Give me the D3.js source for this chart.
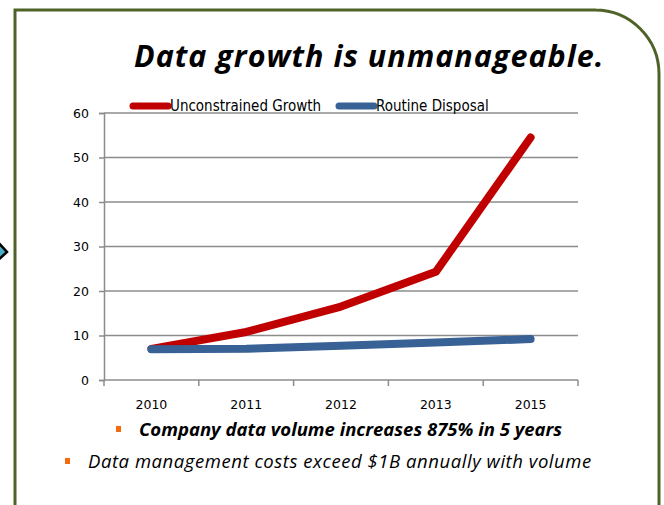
<!DOCTYPE html>
<html>
<head>
<meta charset="utf-8">
<script src="https://cdn.jsdelivr.net/npm/d3@7"></script>
<style>
  body { margin: 0; background: #fff; }
  svg { display: block; }
</style>
</head>
<body>
<svg id="chart"></svg>
<script>
// chart data
var years = ['2010', '2011', '2012', '2013', '2015'];
var growth = [7, 10.8, 16.5, 24.3, 54.5];
var disposal = [6.9, 7.0, 7.7, 8.4, 9.2];
var yTicks = [0, 10, 20, 30, 40, 50, 60];
var seriesNames = ['Unconstrained Growth', 'Routine Disposal'];
var bullets = [
  'Company data volume increases 875% in 5 years',
  'Data management costs exceed $1B annually with volume'
];

var width = 664;
var height = 505;
var red = '#c00000';
var blue = '#386195';
var grid = '#8c8c8c';

var svg = d3.select('#chart')
  .attr('width', width)
  .attr('height', height);

// ===== frame with rounded top-right corner ===== //
var frame = d3.path();
frame.moveTo(15, height + 2);
frame.lineTo(15, 10);
frame.lineTo(596, 10);
frame.arcTo(659, 10, 659, 75, 64);
frame.lineTo(659, height + 2);
svg.append('path')
  .attr('d', frame.toString())
  .attr('fill', 'none')
  .attr('stroke', '#4f6228')
  .attr('stroke-width', 3);

// little arrow peeking in from the left
svg.append('polygon')
  .attr('points', '-4,240 7,252 -4,262')
  .attr('fill', '#4bacc6')
  .attr('stroke', '#000')
  .attr('stroke-width', 2.5);

// ===== title ===== //
svg.append('text')
  .attr('x', 134)
  .attr('y', 67)
  .style('font-family', '"Open Sans", sans-serif')
  .style('font-weight', 'bold')
  .style('font-style', 'italic')
  .style('font-size', '30.5px')
  .style('letter-spacing', '1px')
  .text('Data growth is unmanageable.');

// ===== scales ===== //
var x = d3.scaleBand()
  .domain(years)
  .range([104, 578]);

var y = d3.scaleLinear()
  .domain([0, 60])
  .range([380, 113]);

// gridlines
svg.append('g')
  .selectAll('line')
  .data(yTicks.filter(function (d) { return d > 0; }))
  .enter()
  .append('line')
  .attr('x1', 104)
  .attr('x2', 578)
  .attr('y1', function (d) { return y(d); })
  .attr('y2', function (d) { return y(d); })
  .attr('stroke', grid)
  .attr('stroke-width', 1.5);

// y axis
var yAxis = d3.axisLeft(y)
  .tickValues(yTicks)
  .tickSize(5)
  .tickPadding(10);

var yG = svg.append('g')
  .attr('transform', 'translate(104,0)')
  .call(yAxis);

// x axis (labels only, ticks drawn between categories)
var xAxis = d3.axisBottom(x)
  .tickSize(0)
  .tickPadding(20);

var xG = svg.append('g')
  .attr('transform', 'translate(0,380)')
  .call(xAxis);

[yG, xG].forEach(function (g) {
  g.select('.domain').attr('stroke', grid).attr('stroke-width', 1.5);
  g.selectAll('.tick line').attr('stroke', grid).attr('stroke-width', 1.5);
  g.selectAll('text')
    .attr('fill', '#000')
    .style('font-family', '"DejaVu Sans", sans-serif')
    .style('font-size', '12.5px');
});
xG.select('.domain').attr('d', 'M104,0H578');

// category separators
svg.append('g')
  .selectAll('line')
  .data(years.map(function (d) { return x(d); }).concat([x.range()[1]]))
  .enter()
  .append('line')
  .attr('x1', function (d) { return d; })
  .attr('x2', function (d) { return d; })
  .attr('y1', 380)
  .attr('y2', 386)
  .attr('stroke', grid)
  .attr('stroke-width', 1.5);

// ===== lines ===== //
var line = d3.line()
  .x(function (d, i) { return x(years[i]) + x.bandwidth() / 2; })
  .y(function (d) { return y(d); });

svg.append('path')
  .datum(growth)
  .attr('d', line)
  .attr('fill', 'none')
  .attr('stroke', red)
  .attr('stroke-width', 8)
  .attr('stroke-linecap', 'round')
  .attr('stroke-linejoin', 'round');

svg.append('path')
  .datum(disposal)
  .attr('d', line)
  .attr('fill', 'none')
  .attr('stroke', blue)
  .attr('stroke-width', 8)
  .attr('stroke-linecap', 'round')
  .attr('stroke-linejoin', 'round');

// ===== legend ===== //
var legendItems = [
  { name: seriesNames[0], color: red, x: 130 },
  { name: seriesNames[1], color: blue, x: 336 }
];
var legend = svg.append('g');
legendItems.forEach(function (item) {
  legend.append('line')
    .attr('x1', item.x + 3)
    .attr('x2', item.x + 38)
    .attr('y1', 106)
    .attr('y2', 106)
    .attr('stroke', item.color)
    .attr('stroke-width', 7)
    .attr('stroke-linecap', 'round');
  legend.append('text')
    .attr('x', item.x + 40)
    .attr('y', 111)
    .style('font-family', '"DejaVu Sans Condensed", "DejaVu Sans", sans-serif')
    .style('font-size', '15px')
    .text(item.name);
});

// ===== bullets ===== //
var bulletRows = [
  { text: bullets[0], x: 139, y: 436, sq: 116, weight: 'bold', spacing: '0px' },
  { text: bullets[1], x: 88, y: 468, sq: 65, weight: 'normal', spacing: '0.55px' }
];
bulletRows.forEach(function (b) {
  svg.append('rect')
    .attr('x', b.sq)
    .attr('y', b.y - 10)
    .attr('width', 5)
    .attr('height', 6)
    .attr('fill', '#f26b0f');
  svg.append('text')
    .attr('x', b.x)
    .attr('y', b.y)
    .style('font-family', '"Open Sans", sans-serif')
    .style('font-style', 'italic')
    .style('font-weight', b.weight)
    .style('font-size', '18.5px')
    .style('letter-spacing', b.spacing)
    .text(b.text);
});
</script>
</body>
</html>
